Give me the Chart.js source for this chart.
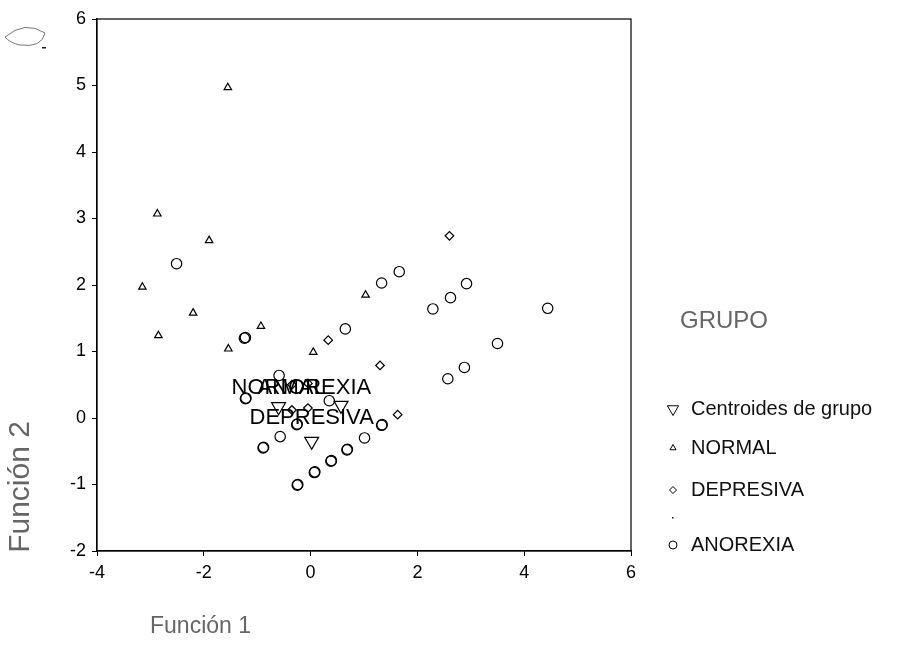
<!DOCTYPE html>
<html>
<head>
<meta charset="utf-8">
<script src="https://cdn.jsdelivr.net/npm/chart.js@4.4.0/dist/chart.umd.min.js"></script>
<style>
  html, body { margin: 0; padding: 0; background: #fff; }
  #wrap { width: 901px; height: 659px; }
</style>
</head>
<body>
<div id="wrap"><canvas id="chart" width="901" height="659"></canvas></div>
<script>
// discriminant scores per case: Función 1 (x), Función 2 (y)
const normalX = [-1.55, -2.87, -1.90, -3.15, -2.20, -2.85, -0.93, -1.54, 0.05, 1.03];
const normalY = [4.97, 3.07, 2.67, 1.97, 1.58, 1.24, 1.38, 1.04, 0.99, 1.85];

const depresivaX = [2.60, 0.33, 1.30, 1.63, -0.35, -0.05, -0.35, -0.05];
const depresivaY = [2.74, 1.17, 0.79, 0.05, 0.50, 0.52, 0.12, 0.15];

// repeated cases sit almost on top of each other
const anorexiaX = [-2.51, 0.65, 1.66, 1.33, 2.92, 2.62, 2.29, 4.44, 3.50, 2.88, 2.57,
  1.33, 1.34, 1.01, -1.24, -1.22, -0.59, -1.22, -1.21, 0.35, -0.26, -0.25, -0.57,
  -0.89, -0.88, 0.68, 0.69, 0.38, 0.39, 0.07, 0.08, -0.25, -0.24];
const anorexiaY = [2.32, 1.34, 2.20, 2.03, 2.02, 1.81, 1.64, 1.65, 1.12, 0.76, 0.59,
  -0.11, -0.10, -0.30, 1.20, 1.21, 0.64, 0.29, 0.30, 0.26, -0.10, -0.09, -0.28,
  -0.45, -0.44, -0.48, -0.47, -0.65, -0.64, -0.82, -0.81, -1.01, -1.00];

const centroidNames = ['NORMAL', 'ANOREXIA', 'DEPRESIVA'];
const centroidX = [-0.60, 0.57, 0.02];
const centroidY = [0.17, 0.19, -0.35];
// where each group name is written (data units)
const nameX = [-0.60, 0.07, 0.02];
const nameY = [0.45, 0.45, 0.0];

const xTicks = [-4, -2, 0, 2, 4, 6];
const yTicks = [-2, -1, 0, 1, 2, 3, 4, 5, 6];

const legendTitle = 'GRUPO';
const xTitle = 'Función 1';
const yTitle = 'Función 2';

const FONT = '"Liberation Sans", Arial, sans-serif';

const toPoints = (xs, ys) => xs.map((x, i) => ({ x: x, y: ys[i] }));

function drawMarker(ctx, d, x, y) {
  ctx.save();
  ctx.strokeStyle = '#000';
  ctx.fillStyle = '#fff';
  ctx.lineWidth = 1;
  Chart.helpers.drawPoint(ctx, {
    pointStyle: d.pointStyle, radius: d.legendRadius, rotation: d.rotation, borderWidth: 1
  }, x, y);
  ctx.restore();
}

const datasets = [
  { label: 'Centroides de grupo', data: toPoints(centroidX, centroidY),
    pointStyle: 'triangle', rotation: 180, pointRadius: 8, legendRadius: 6.5 },
  { label: 'NORMAL', data: toPoints(normalX, normalY),
    pointStyle: 'triangle', rotation: 0, pointRadius: 4.3, legendRadius: 3.5 },
  { label: 'DEPRESIVA', data: toPoints(depresivaX, depresivaY),
    pointStyle: 'rectRot', rotation: 0, pointRadius: 4.3, legendRadius: 3.5 },
  { label: 'ANOREXIA', data: toPoints(anorexiaX, anorexiaY),
    pointStyle: 'circle', rotation: 0, pointRadius: 5.2, legendRadius: 4 }
].map(d => Object.assign(d, {
  borderColor: '#000',
  backgroundColor: 'rgba(255,255,255,0)',
  pointBorderWidth: 1.2,
  pointHoverRadius: d.pointRadius
}));

// frame, group names, legend and axis titles
const decorations = {
  id: 'decorations',
  afterDatasetsDraw(chart) {
    const { ctx, chartArea: a, scales } = chart;
    ctx.save();
    ctx.strokeStyle = '#000';
    ctx.lineWidth = 1.2;
    ctx.strokeRect(a.left, a.top, a.right - a.left, a.bottom - a.top);

    ctx.fillStyle = '#000';
    ctx.font = '22px ' + FONT;
    ctx.textAlign = 'center';
    ctx.textBaseline = 'middle';
    centroidNames.forEach((n, i) => {
      ctx.fillText(n, scales.x.getPixelForValue(nameX[i]), scales.y.getPixelForValue(nameY[i]));
    });
    ctx.restore();
  },
  afterDraw(chart) {
    const { ctx } = chart;
    ctx.save();
    ctx.textBaseline = 'middle';
    ctx.textAlign = 'left';

    ctx.fillStyle = '#666';
    ctx.font = '24px ' + FONT;
    ctx.fillText(legendTitle, 680, 321);

    const rowY = [409, 448, 490, 545];
    ctx.fillStyle = '#111';
    ctx.font = '20px ' + FONT;
    chart.data.datasets.forEach((d, i) => {
      drawMarker(ctx, d, 673, rowY[i]);
      ctx.fillText(d.label, 691, rowY[i]);
    });
    ctx.fillRect(672, 517, 1.5, 1.5);

    // axis titles
    ctx.fillStyle = '#666';
    ctx.font = '23px ' + FONT;
    ctx.fillText(xTitle, 150, 627);
    ctx.save();
    ctx.translate(21, 487);
    ctx.rotate(-Math.PI / 2);
    ctx.textAlign = 'center';
    ctx.font = '30px ' + FONT;
    ctx.fillText(yTitle, 0, 0);
    ctx.restore();

    // pencil mark in the corner
    ctx.strokeStyle = '#777';
    ctx.lineWidth = 1;
    ctx.beginPath();
    ctx.moveTo(5, 37);
    ctx.quadraticCurveTo(25, 20, 45, 33);
    ctx.quadraticCurveTo(42, 48, 20, 45);
    ctx.quadraticCurveTo(10, 43, 5, 37);
    ctx.stroke();
    ctx.fillStyle = '#222';
    ctx.fillRect(42, 47, 4, 1.5);
    ctx.restore();
  }
};

new Chart(document.getElementById('chart'), {
  type: 'scatter',
  data: { datasets: datasets },
  options: {
    responsive: false,
    animation: false,
    events: [],
    layout: { padding: { left: 0, top: 19, right: 270, bottom: 0 } },
    plugins: { legend: { display: false }, tooltip: { enabled: false } },
    scales: {
      x: {
        type: 'linear', min: -4, max: 6,
        afterBuildTicks: s => { s.ticks = xTicks.map(v => ({ value: v })); },
        afterFit: s => { s.height = 108; },
        grid: { drawOnChartArea: false, drawTicks: true, tickLength: 5, color: '#000' },
        border: { color: '#000', width: 1.2 },
        ticks: { color: '#000', padding: 6, font: { size: 18, family: FONT } }
      },
      y: {
        type: 'linear', min: -2, max: 6,
        afterBuildTicks: s => { s.ticks = yTicks.map(v => ({ value: v })); },
        afterFit: s => { s.width = 97; },
        grid: { drawOnChartArea: false, drawTicks: true, tickLength: 5, color: '#000' },
        border: { color: '#000', width: 1.2 },
        ticks: { color: '#000', padding: 6, font: { size: 18, family: FONT } }
      }
    }
  },
  plugins: [decorations]
});
</script>
</body>
</html>
